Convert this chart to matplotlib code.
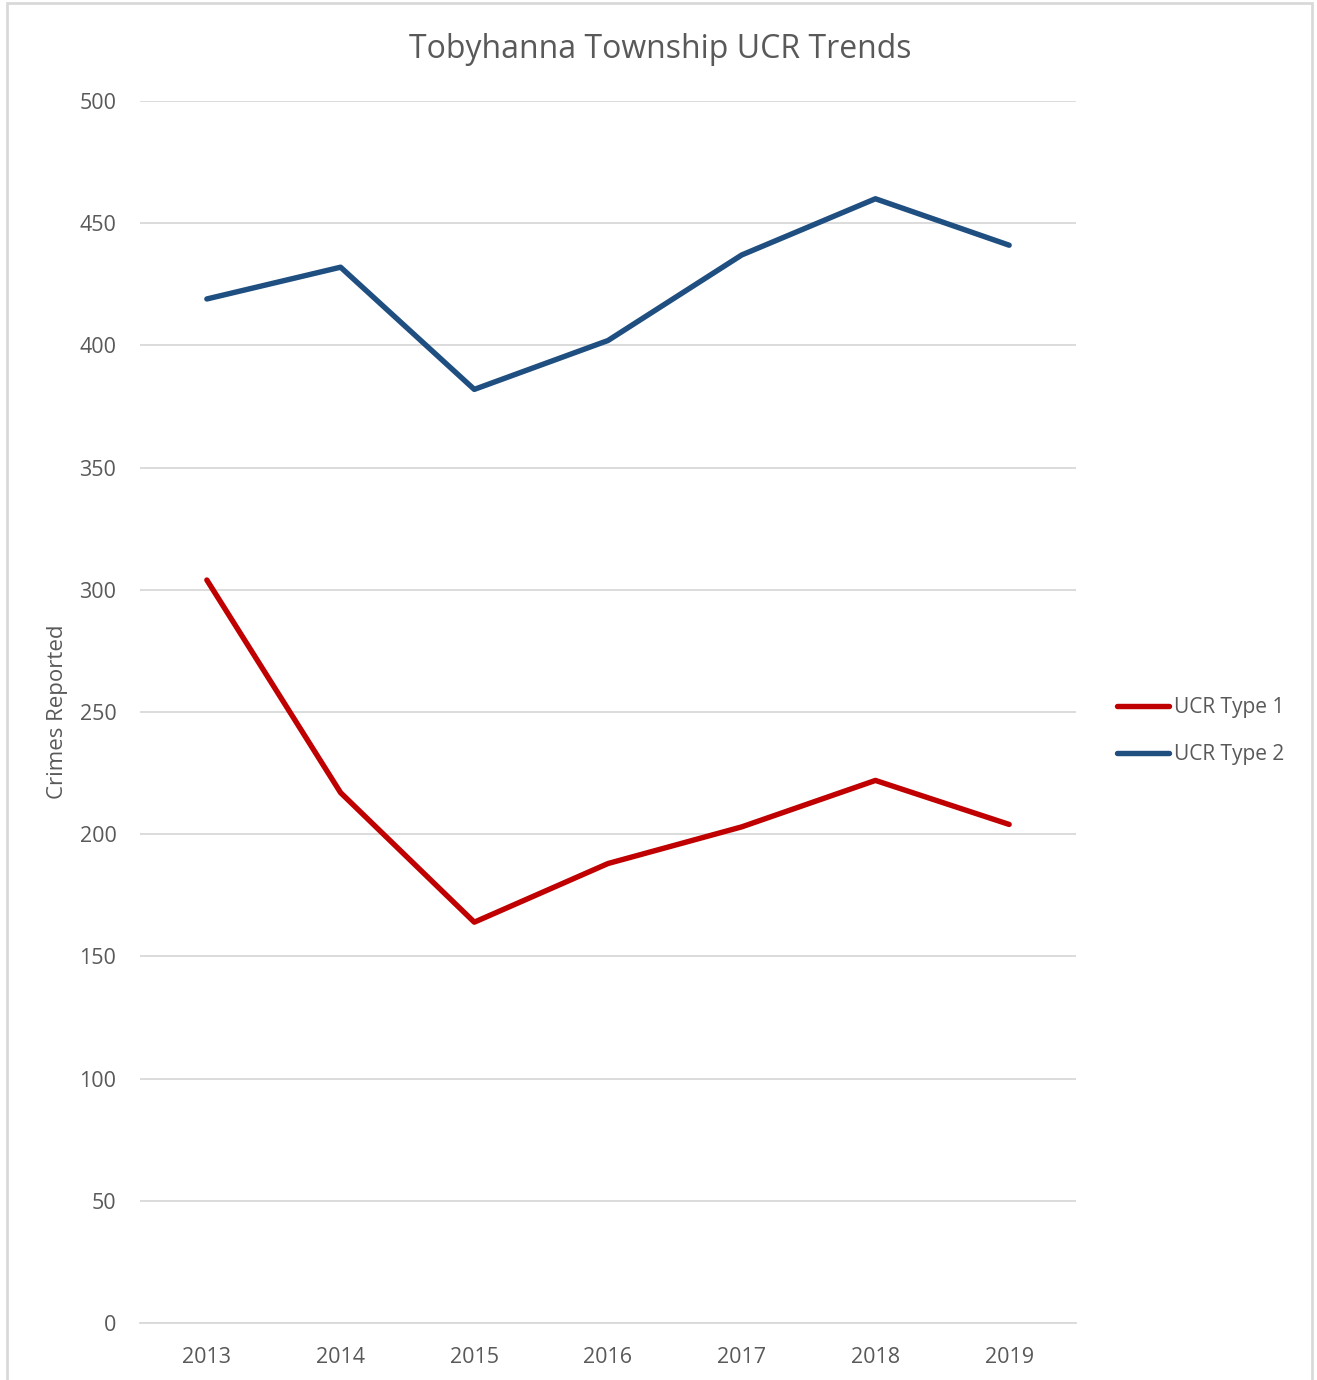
import matplotlib.pyplot as plt
from matplotlib.patches import Rectangle

years = ['2013', '2014', '2015', '2016', '2017', '2018', '2019']
ucr_type1 = [304, 217, 164, 188, 203, 222, 204]
ucr_type2 = [419, 432, 382, 402, 437, 460, 441]

text_color = '#595959'
plt.rcParams['font.family'] = ['Open Sans', 'DejaVu Sans']

fig = plt.figure(figsize=(13.17, 13.8), dpi=100)
ax = fig.add_axes([140 / 1317, 1 - 1323 / 1380, 936 / 1317, 1222 / 1380])

x = range(len(years))
ax.plot(x, ucr_type1, color='#C00000', lw=3.9, label='UCR Type 1', solid_capstyle='round')
ax.plot(x, ucr_type2, color='#1F4E80', lw=3.9, label='UCR Type 2', solid_capstyle='round')

ax.set_xlim(-0.5, len(years) - 0.5)
ax.set_ylim(0, 500)
ax.set_yticks(range(0, 501, 50))
ax.set_xticks(list(x))
ax.set_xticklabels(years)
ax.grid(axis='y', color='#D9D9D9', lw=1.3)
ax.set_axisbelow(True)
for s in ['top', 'right', 'left']:
    ax.spines[s].set_visible(False)
ax.spines['bottom'].set_color('#D9D9D9')
ax.spines['bottom'].set_linewidth(1.3)
ax.tick_params(axis='both', length=0, labelsize=15.5, colors=text_color)
ax.tick_params(axis='y', pad=17)
ax.tick_params(axis='x', pad=17.5)

fig.text(57 / 1317, 1 - 712 / 1380, 'Crimes Reported', rotation=90, ha='center', va='center',
         fontsize=16, color=text_color)

fig.text(660 / 1317, 1 - 50 / 1380, 'Tobyhanna Township UCR Trends', ha='center', va='center',
         fontsize=23, color=text_color)

fig.legend(loc='center left', bbox_to_anchor=(1117 / 1317, 1 - 731 / 1380), frameon=False,
           fontsize=15, handlelength=2.5, handletextpad=0.22, labelspacing=1.25,
           borderpad=0, borderaxespad=0, labelcolor=text_color)

fig.patches.append(Rectangle((7 / 1317, -0.01), 1305 / 1317, 1 - 3 / 1380 + 0.01,
                             transform=fig.transFigure, fill=False, edgecolor='#D9D9D9', lw=2))

fig.savefig('out.png', dpi=100)
